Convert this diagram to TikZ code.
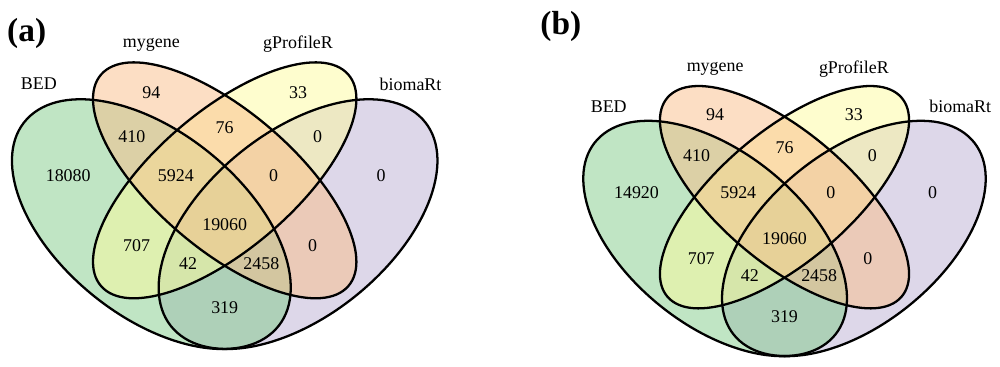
\documentclass[tikz,border=0pt]{standalone}
\usepackage{fontspec}
\setmainfont{Liberation Serif}
\usepackage{xcolor}
\usepackage{tikz}
\usetikzlibrary{positioning}

\definecolor{bedcol}{RGB}{129,203,137}
\definecolor{mycol}{RGB}{249,189,137}
\definecolor{gpcol}{RGB}{253,251,157}
\definecolor{biocol}{RGB}{187,175,211}

\begin{document}
\begin{tikzpicture}[
		setfill/.style={fill opacity=0.5},
		setline/.style={draw=black, line width=1.3pt},
		count/.style={font=\fontsize{10.2}{12}\selectfont, inner sep=0pt},
		setname/.style={font=\fontsize{10.2}{12}\selectfont, inner sep=0pt},
		panel/.style={font=\fontsize{19}{22}\selectfont\bfseries, inner sep=0pt}]
	\useasboundingbox (0,0) rectangle (20,7.34);
	
	% (a)
	\node[panel] (a-label) at (0.534,6.674) {(a)};
	\begin{scope}[shift={(-0.396,-1.26)}, xscale=9.78, yscale=8.76]
		\fill[setfill, fill=biocol] (0.65,0.47) ellipse [x radius=0.35, y radius=0.2, rotate=45];
		\fill[setfill, fill=bedcol] (0.35,0.47) ellipse [x radius=0.35, y radius=0.2, rotate=-45];
		\fill[setfill, fill=gpcol] (0.5,0.57) ellipse [x radius=0.35, y radius=0.15, rotate=45];
		\fill[setfill, fill=mycol] (0.5,0.57) ellipse [x radius=0.35, y radius=0.15, rotate=-45];
		\draw[setline] (0.35,0.47) ellipse [x radius=0.35, y radius=0.2, rotate=-45];
		\draw[setline] (0.5,0.57) ellipse [x radius=0.35, y radius=0.15, rotate=-45];
		\draw[setline] (0.5,0.57) ellipse [x radius=0.35, y radius=0.15, rotate=45];
		\draw[setline] (0.65,0.47) ellipse [x radius=0.35, y radius=0.2, rotate=45];
		
		\node[setname] (a-BED) at (0.12,0.79) {BED};
		\node[setname] (a-mygene) at (0.35,0.88) {mygene};
		\node[setname] (a-gProfileR) at (0.65,0.88) {gProfileR};
		\node[setname] (a-biomaRt) at (0.88,0.79) {biomaRt};
		
		\node[count] (a-m) at (0.35,0.77) {94};
		\node[count] (a-g) at (0.65,0.77) {33};
		\node[count] (a-bm) at (0.31,0.67) {410};
		\node[count] (a-mg) at (0.5,0.69) {76};
		\node[count] (a-gr) at (0.69,0.67) {0};
		\node[count] (a-b) at (0.18,0.58) {18080};
		\node[count] (a-bmg) at (0.40,0.58) {5924};
		\node[count] (a-mgr) at (0.60,0.58) {0};
		\node[count] (a-r) at (0.82,0.58) {0};
		\node[count] (a-bmgr) at (0.5,0.47) {19060};
		\node[count] (a-bg) at (0.32,0.42) {707};
		\node[count] (a-mr) at (0.68,0.42) {0};
		\node[count] (a-bgr) at (0.425,0.38) {42};
		\node[count] (a-bmr) at (0.575,0.38) {2458};
		\node[count] (a-br) at (0.5,0.28) {319};
	\end{scope}
	
	% (b)
	\node[panel] (b-label) at (11.216,6.806) {(b)};
	\begin{scope}[shift={(11.065,-1.31)}, xscale=9.25, yscale=8.256]
		\fill[setfill, fill=biocol] (0.65,0.47) ellipse [x radius=0.35, y radius=0.2, rotate=45];
		\fill[setfill, fill=bedcol] (0.35,0.47) ellipse [x radius=0.35, y radius=0.2, rotate=-45];
		\fill[setfill, fill=gpcol] (0.5,0.57) ellipse [x radius=0.35, y radius=0.15, rotate=45];
		\fill[setfill, fill=mycol] (0.5,0.57) ellipse [x radius=0.35, y radius=0.15, rotate=-45];
		\draw[setline] (0.35,0.47) ellipse [x radius=0.35, y radius=0.2, rotate=-45];
		\draw[setline] (0.5,0.57) ellipse [x radius=0.35, y radius=0.15, rotate=-45];
		\draw[setline] (0.5,0.57) ellipse [x radius=0.35, y radius=0.15, rotate=45];
		\draw[setline] (0.65,0.47) ellipse [x radius=0.35, y radius=0.2, rotate=45];
		
		\node[setname] (b-BED) at (0.12,0.79) {BED};
		\node[setname] (b-mygene) at (0.35,0.88) {mygene};
		\node[setname] (b-gProfileR) at (0.65,0.88) {gProfileR};
		\node[setname] (b-biomaRt) at (0.88,0.79) {biomaRt};
		
		\node[count] (b-m) at (0.35,0.77) {94};
		\node[count] (b-g) at (0.65,0.77) {33};
		\node[count] (b-bm) at (0.31,0.67) {410};
		\node[count] (b-mg) at (0.5,0.69) {76};
		\node[count] (b-gr) at (0.69,0.67) {0};
		\node[count] (b-b) at (0.18,0.58) {14920};
		\node[count] (b-bmg) at (0.40,0.58) {5924};
		\node[count] (b-mgr) at (0.60,0.58) {0};
		\node[count] (b-r) at (0.82,0.58) {0};
		\node[count] (b-bmgr) at (0.5,0.47) {19060};
		\node[count] (b-bg) at (0.32,0.42) {707};
		\node[count] (b-mr) at (0.68,0.42) {0};
		\node[count] (b-bgr) at (0.425,0.38) {42};
		\node[count] (b-bmr) at (0.575,0.38) {2458};
		\node[count] (b-br) at (0.5,0.28) {319};
	\end{scope}
\end{tikzpicture}
\end{document}
